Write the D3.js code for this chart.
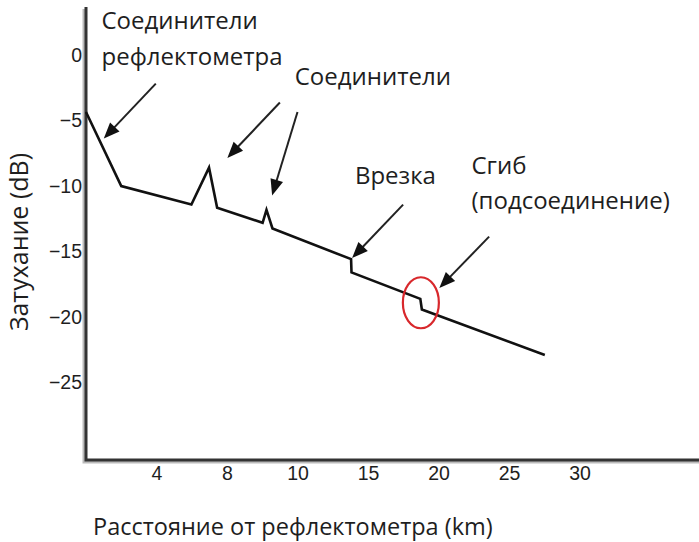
<!DOCTYPE html>
<html>
<head>
<meta charset="utf-8">
<script src="https://cdn.jsdelivr.net/npm/d3@7"></script>
<style>
  body { margin: 0; background: #fff; }
  svg { display: block; }
  text { fill: #1e1e1e; }
</style>
</head>
<body>
<div id="chart"></div>
<script>
// tick labels (x ticks are evenly spaced on the picture, not linear in km)
var xTicks = [4, 8, 10, 15, 20, 25, 30];
var yTicks = [0, -5, -10, -15, -20, -25];

// OTDR trace, km vs dB
var traceKm = [0, 2.0, 5.98, 6.98, 7.44, 9.01, 9.12, 9.29, 13.8, 13.83, 18.71, 18.82, 27.54];
var traceDb = [-4.42, -10.08, -11.49, -8.67, -11.74, -12.88, -11.89, -13.31, -15.66, -16.67, -18.69, -19.5, -22.98];

// annotations (anchor in km / dB)
var noteLines = [["Соединители", "рефлектометра"], ["Соединители"], ["Врезка"], ["Сгиб", "(подсоединение)"]];
var noteKm = [0.88, 9.92, 14.07, 22.34];
var noteDb = [1.89, -2.33, -9.9, -9.14];

var arrowFrom = [[3.96, -2.25], [9.5, -3.69], [10.0, -4.42], [17.49, -11.49], [23.59, -13.94]];
var arrowTo   = [[1.01, -6.45], [8.01, -7.93], [9.28, -10.79], [13.87, -15.58], [20.06, -17.86]];

var bendKm = 18.75, bendDb = -18.99;

var width = 699, height = 542,
    margin = {top: 7, left: 86, bottom: 460},
    step = 70.5;

var svg = d3.select('#chart').append('svg')
    .attr('width', width)
    .attr('height', height);

var xScale = d3.scaleLinear()
    .domain([0].concat(xTicks))
    .range(d3.range(xTicks.length + 1).map(i => margin.left + i * step));

var yScale = d3.scaleLinear()
    .domain([-31, 3.6])
    .range([margin.bottom, margin.top]);

// axes
var xAxis = d3.axisBottom(xScale).tickValues(xTicks).tickSize(0).tickPadding(10);
var yAxis = d3.axisLeft(yScale).tickValues(yTicks).tickSize(0).tickPadding(4);

var xGroup = svg.append('g')
    .attr('transform', 'translate(0,' + margin.bottom + ')')
    .call(xAxis);
var yGroup = svg.append('g')
    .attr('transform', 'translate(' + margin.left + ',0)')
    .call(yAxis);

[xGroup, yGroup].forEach(g => {
    g.select('.domain').remove();
    g.selectAll('text')
        .style('font-family', '"Liberation Sans", Arial, sans-serif')
        .style('font-size', '19.5px')
        .attr('fill', '#1e1e1e');
});
xGroup.selectAll('text').attr('dy', '0.5em');
yGroup.selectAll('text').attr('dy', '0.36em');

// axis lines with a soft shadow
svg.append('path')
    .attr('d', 'M' + (margin.left - 2) + ',' + (margin.top + 2) + 'V' + (margin.bottom + 2) + 'H' + width)
    .attr('fill', 'none')
    .attr('stroke', '#bbb')
    .attr('stroke-width', 3);
svg.append('path')
    .attr('d', 'M' + margin.left + ',' + margin.top + 'V' + margin.bottom + 'H' + width)
    .attr('fill', 'none')
    .attr('stroke', '#333')
    .attr('stroke-width', 3);

// trace
var trace = d3.zip(traceKm, traceDb);
svg.append('path')
    .datum(trace)
    .attr('fill', 'none')
    .attr('stroke', '#111')
    .attr('stroke-width', 2.6)
    .attr('stroke-linejoin', 'miter')
    .attr('d', d3.line().x(d => xScale(d[0])).y(d => yScale(d[1])));

// red ring round the bend
svg.append('ellipse')
    .attr('cx', xScale(bendKm))
    .attr('cy', yScale(bendDb))
    .attr('rx', 18)
    .attr('ry', 25.5)
    .attr('fill', 'none')
    .attr('stroke', '#d8282c')
    .attr('stroke-width', 2.2);

// arrows
var headLen = 16, headHalf = 6.5;
arrowFrom.forEach(function (f, i) {
    var x0 = xScale(f[0]), y0 = yScale(f[1]),
        x1 = xScale(arrowTo[i][0]), y1 = yScale(arrowTo[i][1]),
        a = Math.atan2(y1 - y0, x1 - x0),
        bx = x1 - headLen * Math.cos(a), by = y1 - headLen * Math.sin(a),
        px = -Math.sin(a) * headHalf, py = Math.cos(a) * headHalf;
    svg.append('line')
        .attr('x1', x0).attr('y1', y0)
        .attr('x2', bx + 2 * Math.cos(a)).attr('y2', by + 2 * Math.sin(a))
        .attr('stroke', '#222')
        .attr('stroke-width', 2);
    svg.append('path')
        .attr('d', 'M' + x1 + ',' + y1 + 'L' + (bx + px) + ',' + (by + py) + 'L' + (bx - px) + ',' + (by - py) + 'Z')
        .attr('fill', '#111');
});

// annotation texts
noteLines.forEach(function (lines, i) {
    var t = svg.append('text')
        .attr('x', xScale(noteKm[i]))
        .attr('y', yScale(noteDb[i]))
        .style('font-family', '"Open Sans", sans-serif')
        .style('font-size', '24px');
    lines.forEach(function (s, j) {
        t.append('tspan')
            .attr('x', xScale(noteKm[i]))
            .attr('dy', j ? 35.5 : 0)
            .text(s);
    });
});

// axis titles
svg.append('text')
    .attr('x', 93)
    .attr('y', 535)
    .style('font-family', '"Open Sans", sans-serif')
    .style('font-size', '23.5px')
    .text('Расстояние от рефлектометра (km)');

svg.append('text')
    .attr('transform', 'translate(28,242) rotate(-90)')
    .attr('text-anchor', 'middle')
    .style('font-family', '"Open Sans", sans-serif')
    .style('font-size', '25px')
    .text('Затухание (dB)');
</script>
</body>
</html>
